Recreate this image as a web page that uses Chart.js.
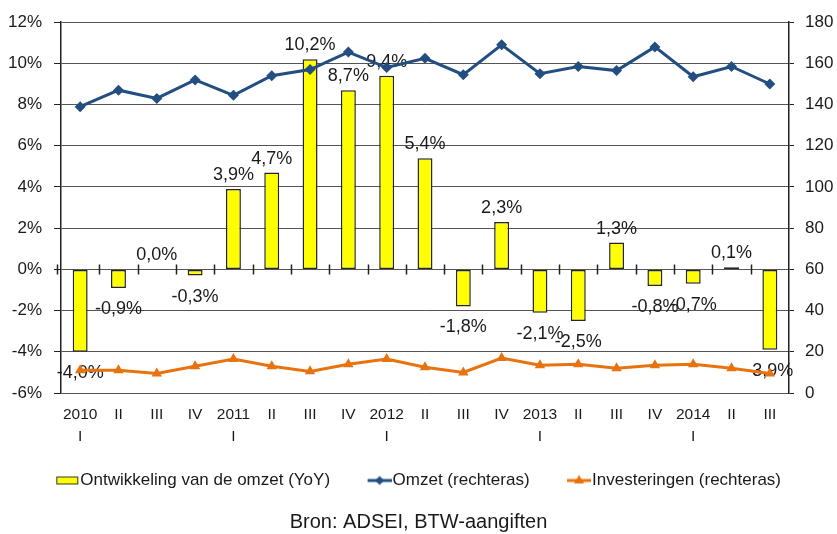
<!DOCTYPE html>
<html>
<head>
<meta charset="utf-8">
<script src="https://cdn.jsdelivr.net/npm/chart.js@4.4.1/dist/chart.umd.min.js"></script>
<style>
  html, body { margin: 0; padding: 0; background: #fff; }
  #wrap { width: 837px; height: 534px; }
</style>
</head>
<body>
<div id="wrap"><canvas id="chart"></canvas></div>
<script>
// Kwartalen
const kwartalen = [
  ["2010", "I"], "II", "III", "IV",
  ["2011", "I"], "II", "III", "IV",
  ["2012", "I"], "II", "III", "IV",
  ["2013", "I"], "II", "III", "IV",
  ["2014", "I"], "II", "III"
];

// Ontwikkeling van de omzet (YoY, %)
const omzetGroei = [-4.0, -0.9, 0.0, -0.3, 3.9, 4.7, 10.2, 8.7, 9.4, 5.4, -1.8, 2.3, -2.1, -2.5, 1.3, -0.8, -0.7, 0.1, -3.9];

// Omzet (rechteras)
const omzet = [139, 147, 143, 152, 144.5, 154, 157, 165.5, 158, 162.5, 154.5, 169, 155, 158.5, 156.5, 168, 153.5, 158.5, 150];

// Investeringen (rechteras)
const investeringen = [11, 11, 9.5, 13, 16.5, 13, 10.5, 14, 16.5, 12.5, 10, 17, 13.5, 14, 12, 13.5, 14, 12, 9.5];

// Astikken: min, max, stap
const linksTicks = [-6, 12, 2];
const rechtsTicks = [0, 180, 20];

const FONT = "'Liberation Sans', Arial, sans-serif";
const TXT = "#1a1a1a";
const BLAUW = "#234e82";
const ORANJE = "#e8730e";

// legendeplaatjes: tekening rechts in een breder canvas, zodat de tekst er direct naast staat
function legendImg(kind) {
  const c = document.createElement("canvas");
  c.width = 45; c.height = 14;
  const g = c.getContext("2d");
  g.translate(21, 0);
  if (kind === "bar") {
    g.fillStyle = "#ffff00";
    g.strokeStyle = "#333";
    g.fillRect(1.5, 3.5, 21, 7);
    g.strokeRect(1.5, 3.5, 21, 7);
  } else {
    const col = kind === "omzet" ? BLAUW : ORANJE;
    g.strokeStyle = col; g.fillStyle = col; g.lineWidth = 3;
    g.beginPath(); g.moveTo(0, 7); g.lineTo(24, 7); g.stroke();
    g.beginPath();
    if (kind === "omzet") {
      g.moveTo(12, 2.5); g.lineTo(16.5, 7); g.lineTo(12, 11.5); g.lineTo(7.5, 7);
    } else {
      g.moveTo(12, 1.5); g.lineTo(17, 10); g.lineTo(7, 10);
    }
    g.closePath(); g.fill();
  }
  return c;
}
const legendImgs = [legendImg("bar"), legendImg("omzet"), legendImg("inv")];

function fmt(v) {
  return v.toFixed(1).replace(".", ",") + "%";
}

// waardelabels bij de staven, onder de lijnen
const barLabels = {
  id: "barLabels",
  afterDatasetDraw(chart, args) {
    if (args.index !== 0) return;
    const ctx = chart.ctx;
    const meta = chart.getDatasetMeta(0);
    ctx.save();
    ctx.font = "18px " + FONT;
    ctx.fillStyle = TXT;
    ctx.textAlign = "center";
    ctx.textBaseline = "alphabetic";
    meta.data.forEach((bar, i) => {
      const v = omzetGroei[i];
      const y = v >= 0 ? bar.y - 9 : bar.y + 26;
      ctx.fillText(fmt(v), bar.x, y);
    });
    ctx.restore();
  }
};

// streepjes op de 0%-lijn tussen de kwartalen
const zeroTicks = {
  id: "zeroTicks",
  beforeDatasetsDraw(chart) {
    const x = chart.scales.x, y = chart.scales.y;
    const y0 = y.getPixelForValue(0);
    const ctx = chart.ctx;
    ctx.save();
    ctx.strokeStyle = "#222";
    ctx.lineWidth = 1.5;
    ctx.beginPath();
    for (let i = 0; i < kwartalen.length; i++) {
      let px;
      if (i === 0) px = chart.chartArea.left - 4;
      else px = (x.getPixelForValue(i - 1) + x.getPixelForValue(i)) / 2;
      ctx.moveTo(Math.round(px) + 0.5, y0 - 5);
      ctx.lineTo(Math.round(px) + 0.5, y0 + 5);
    }
    ctx.stroke();
    ctx.restore();
  }
};

const ctx = document.getElementById("chart").getContext("2d");
new Chart(ctx, {
  type: "bar",
  data: {
    labels: kwartalen,
    datasets: [
      {
        label: "Ontwikkeling van de omzet (YoY)",
        data: omzetGroei,
        yAxisID: "y",
        backgroundColor: "#ffff00",
        borderColor: "#262626",
        borderWidth: 1.5,
        borderSkipped: false,
        barPercentage: 0.39,
        categoryPercentage: 1,
        order: 3
      },
      {
        type: "line",
        label: "Omzet (rechteras)",
        data: omzet,
        yAxisID: "y1",
        borderColor: BLAUW,
        backgroundColor: BLAUW,
        borderWidth: 3,
        pointStyle: "rectRot",
        pointRadius: 5.5,
        pointBorderWidth: 0,
        tension: 0,
        order: 2
      },
      {
        type: "line",
        label: "Investeringen (rechteras)",
        data: investeringen,
        yAxisID: "y1",
        borderColor: ORANJE,
        backgroundColor: ORANJE,
        borderWidth: 3,
        pointStyle: "triangle",
        pointRadius: 6,
        pointBorderWidth: 0,
        tension: 0,
        order: 1
      }
    ]
  },
  options: {
    responsive: true,
    maintainAspectRatio: false,
    animation: false,
    layout: { padding: { top: 22, left: 0, right: 0, bottom: 0 } },
    plugins: {
      tooltip: { enabled: false },
      legend: {
        position: "bottom",
        maxHeight: 64,
        labels: {
          usePointStyle: true,
          pointStyleWidth: 30,
          padding: 24,
          color: TXT,
          font: { family: FONT, size: 17 },
          generateLabels(chart) {
            const n = chart.data.datasets.length;
            return chart.data.datasets.map((ds, i) => ({
              // laatste item wat langer, zodat de legenda iets naar links schuift
              text: i === n - 1 ? ds.label + "\u00a0\u00a0\u00a0" : ds.label,
              pointStyle: legendImgs[i],
              fillStyle: ds.backgroundColor,
              strokeStyle: ds.borderColor,
              lineWidth: 0,
              hidden: false,
              datasetIndex: i,
              fontColor: TXT
            }));
          }
        }
      },
      title: {
        display: true,
        position: "bottom",
        text: "Bron: ADSEI, BTW-aangiften",
        color: TXT,
        font: { family: FONT, size: 20, weight: "normal", lineHeight: 1 },
        padding: { top: 13, bottom: 2 }
      }
    },
    scales: {
      x: {
        offset: true,
        grid: { display: false, drawTicks: false },
        border: { display: false },
        ticks: {
          color: TXT,
          font: { family: FONT, size: 15.5, lineHeight: 1.4 },
          padding: 11,
          maxRotation: 0,
          autoSkip: false
        },
        afterFit(scale) { scale.height = 55; }
      },
      y: {
        position: "left",
        min: linksTicks[0],
        max: linksTicks[1],
        ticks: {
          stepSize: linksTicks[2],
          color: TXT,
          padding: 12,
          font: { family: FONT, size: 17 },
          callback: (v) => v + "%"
        },
        grid: { color: "#555", lineWidth: 1, tickColor: "#222", tickLength: 7 },
        border: { display: true, color: "#222", width: 1.5 },
        afterFit(scale) { scale.width = 61; }
      },
      y1: {
        position: "right",
        min: rechtsTicks[0],
        max: rechtsTicks[1],
        ticks: {
          stepSize: rechtsTicks[2],
          color: TXT,
          padding: 11,
          font: { family: FONT, size: 17 }
        },
        grid: { drawOnChartArea: false, tickColor: "#222", tickLength: 5 },
        border: { display: true, color: "#222", width: 1.5 },
        afterFit(scale) { scale.width = 48; }
      }
    }
  },
  plugins: [zeroTicks, barLabels]
});
</script>
</body>
</html>
